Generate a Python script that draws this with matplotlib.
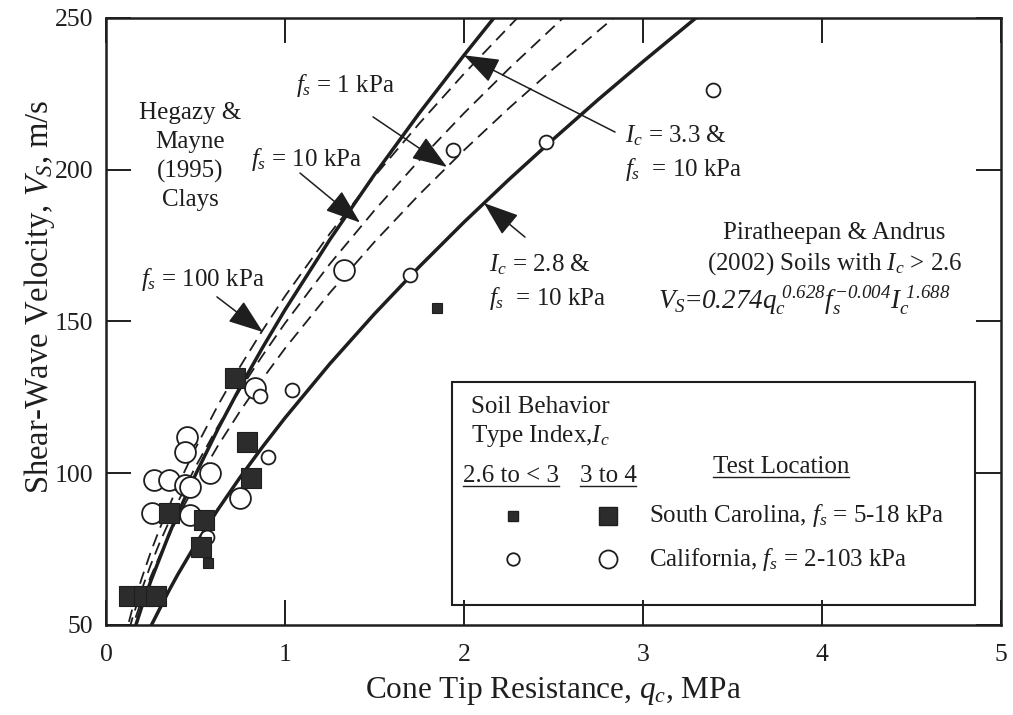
import matplotlib
matplotlib.use("Agg")
import matplotlib.pyplot as plt
from matplotlib.lines import Line2D
from matplotlib.patches import Rectangle
from matplotlib.transforms import IdentityTransform

plt.rcParams["font.family"] = ["Liberation Serif", "DejaVu Serif"]
plt.rcParams["mathtext.fontset"] = "custom"
plt.rcParams["mathtext.rm"] = "Liberation Serif"
plt.rcParams["mathtext.it"] = "Liberation Serif:italic"
# italic digits for the regression formula
plt.rcParams["mathtext.sf"] = "Liberation Serif:italic"

INK = "#1e1e1e"

# Piratheepan & Andrus (2002) curves, fs = 10 kPa
ic33_q = [0.15, 0.17, 0.2, 0.25, 0.35, 0.4, 0.5, 0.625, 0.75, 0.875, 1.0, 1.25, 1.5,
          1.75, 2.0, 2.17]
ic33_v = [46.7, 50.5, 56.0, 64.4, 79.5, 86.5, 99.5, 114.5, 128.4, 141.4, 153.8, 176.9,
          198.4, 218.6, 237.7, 250.2]
ic28_q = [0.22, 0.25, 0.35, 0.4, 0.5, 0.625, 0.75, 0.875, 1.0, 1.25, 1.5, 1.75, 2.0,
          2.25, 2.5, 2.75, 3.0, 3.3]
ic28_v = [45.7, 49.5, 61.1, 66.5, 76.5, 88.0, 98.7, 108.7, 118.2, 136.0, 152.5, 168.0,
          182.7, 196.7, 210.1, 223.1, 235.6, 250.2]

# Hegazy & Mayne (1995) clay curves for fs = 100, 10 and 1 kPa
hm100_q = [0.1, 0.15, 0.2, 0.25, 0.3, 0.4, 0.5, 0.625, 0.75, 0.875, 1.0, 1.25, 1.5,
           1.75, 2.0, 2.3]
hm100_v = [44.7, 55.9, 65.4, 74.0, 81.7, 95.7, 108.2, 122.3, 135.2, 147.1, 158.3, 178.9,
           197.8, 215.2, 231.6, 250.1]
hm10_q = [0.1, 0.15, 0.2, 0.25, 0.3, 0.4, 0.5, 0.625, 0.75, 0.875, 1.0, 1.25, 1.5,
          1.75, 2.0, 2.25, 2.55]
hm10_v = [42.2, 52.7, 61.7, 69.8, 77.1, 90.3, 102.1, 115.4, 127.6, 138.8, 149.4, 168.9,
          186.6, 203.1, 218.6, 233.2, 249.8]
hm1_q = [0.1, 0.15, 0.2, 0.25, 0.3, 0.4, 0.5, 0.625, 0.75, 0.875, 1.0, 1.25, 1.5, 1.75,
         2.0, 2.25, 2.5, 2.84]
hm1_v = [39.9, 49.8, 58.3, 65.9, 72.8, 85.3, 96.4, 109.0, 120.5, 131.1, 141.1, 159.4,
         176.2, 191.8, 206.4, 220.2, 233.3, 250.2]

# measurements
ca_low_q = [3.39, 2.46, 1.94, 1.70, 1.04, 0.86, 0.905, 0.565]
ca_low_v = [226.3, 209.1, 206.5, 165.3, 127.4, 125.5, 105.4, 79.0]
ca_high_q = [1.33, 0.83, 0.45, 0.44, 0.27, 0.35, 0.44, 0.58, 0.47, 0.26, 0.47, 0.75]
ca_high_v = [167.0, 128.1, 112.0, 107.0, 97.8, 97.8, 96.1, 100.0, 95.5, 86.9, 86.2, 91.8]
sc_low_q = [1.85, 0.57]
sc_low_v = [154.4, 70.4]
sc_high_q = [0.72, 0.79, 0.81, 0.55, 0.53, 0.35, 0.13, 0.21, 0.28]
sc_high_v = [131.4, 110.3, 98.4, 84.6, 75.7, 86.9, 59.5, 59.5, 59.5]

x_ticks = [0, 1, 2, 3, 4, 5]
y_ticks = [50, 100, 150, 200, 250]

fig = plt.figure(figsize=(10.13, 7.15), dpi=100)
ax = fig.add_axes([0.1046, 0.1259, 0.8835, 0.849])
ax.set_xlim(0, 5)
ax.set_ylim(50, 250)
ax.set_xticks(x_ticks)
ax.set_yticks(y_ticks)
ax.tick_params(direction="in", length=18, width=1.4, top=True, right=True,
               labelsize=18.5, colors=INK)
ax.tick_params(axis="x", pad=14)
ax.tick_params(axis="y", pad=9)
for s in ax.spines.values():
    s.set_linewidth(1.8)
    s.set_color(INK)
ax.set_xlabel("Cone Tip Resistance, $q_c$, MPa", fontsize=22.5, color=INK, labelpad=6)
ax.set_ylabel("Shear-Wave Velocity, $V_S$, m/s", fontsize=23.5, color=INK)
ax.yaxis.set_label_coords(-0.055, 0.54)

dash = dict(color=INK, lw=1.3, dashes=(7, 4), zorder=2)
ax.plot(hm100_q, hm100_v, **dash)
ax.plot(hm10_q, hm10_v, **dash)
ax.plot(hm1_q, hm1_v, **dash)
ax.plot(ic33_q, ic33_v, color=INK, lw=2.5, zorder=3, solid_joinstyle="round")
ax.plot(ic28_q, ic28_v, color=INK, lw=2.5, zorder=3, solid_joinstyle="round")

ax.plot(ca_high_q, ca_high_v, "o", ms=15, mfc="white", mec=INK, mew=1.3, zorder=4)
ax.plot(ca_low_q, ca_low_v, "o", ms=10, mfc="white", mec=INK, mew=1.3, zorder=4)
ax.plot(sc_high_q, sc_high_v, "s", ms=15, mfc="#2c2c2c", mec=INK, mew=0.8, zorder=5)
ax.plot(sc_low_q, sc_low_v, "s", ms=7.5, mfc="#2c2c2c", mec=INK, mew=0.8, zorder=5)

fs_txt = 18
arrow = dict(arrowstyle="-|>,head_length=1.1,head_width=0.4", color=INK, lw=1.1,
             mutation_scale=20, shrinkA=0, shrinkB=0)

ax.text(0.469, 204.3, "Hegazy &\nMayne\n(1995)\nClays", ha="center", va="center",
        fontsize=fs_txt, color=INK, linespacing=1.38)
ax.annotate("", xy=(1.905, 200.9), xytext=(1.492, 217.4), arrowprops=arrow)
ax.text(1.335, 227.6, "$f_s$ = 1 kPa", ha="center", va="center", fontsize=fs_txt, color=INK)
ax.annotate("", xy=(1.419, 182.6), xytext=(1.084, 198.9), arrowprops=arrow)
ax.text(1.123, 203.5, "$f_s$ = 10 kPa", ha="center", va="center", fontsize=fs_txt, color=INK)
ax.annotate("", xy=(0.877, 146.5), xytext=(0.62, 158.1), arrowprops=arrow)
ax.text(0.542, 163.8, "$f_s$ = 100 kPa", ha="center", va="center", fontsize=fs_txt, color=INK)

ax.annotate("", xy=(2.0, 237.7), xytext=(2.844, 212.4), arrowprops=arrow)
ax.text(2.9, 205.5, "$I_c$ = 3.3 &\n$f_s$  = 10 kPa", ha="left", va="center",
        fontsize=fs_txt, color=INK, linespacing=1.4)
ax.annotate("", xy=(2.112, 189.0), xytext=(2.341, 177.8), arrowprops=arrow)
ax.text(2.14, 163.0, "$I_c$ = 2.8 &\n$f_s$  = 10 kPa", ha="left", va="center",
        fontsize=fs_txt, color=INK, linespacing=1.4)

ax.text(4.07, 173.8, "Piratheepan & Andrus\n(2002) Soils with $I_c$ > 2.6", ha="center",
        va="center", fontsize=fs_txt, color=INK, linespacing=1.3)
ax.text(3.9, 157.0,
        r"$V_S\!=\!\mathsf{0.274}q_c^{\ \mathsf{0.628}}f_s^{\mathsf{-0.004}}I_c^{\ \mathsf{1.688}}$",
        ha="center", va="center", fontsize=19.5, color=INK)

# legend box
ax.add_patch(Rectangle((0.3866, 0.033), 0.5844, 0.367, transform=ax.transAxes,
                       fill=False, ec=INK, lw=1.5, zorder=6))
ax.text(0.485, 0.333, "Soil Behavior\nType Index,$I_c$", transform=ax.transAxes,
        ha="center", va="center", fontsize=fs_txt, color=INK, linespacing=1.25)
h1 = ax.text(0.453, 0.245, "2.6 to < 3", transform=ax.transAxes, ha="center",
             va="center", fontsize=fs_txt, color=INK)
h2 = ax.text(0.561, 0.245, "3 to 4", transform=ax.transAxes, ha="center",
             va="center", fontsize=fs_txt, color=INK)
h3 = ax.text(0.754, 0.260, "Test Location", transform=ax.transAxes, ha="center",
             va="center", fontsize=fs_txt, color=INK)
ax.plot([0.455], [0.180], "s", ms=7.5, mfc="#2c2c2c", mec=INK, transform=ax.transAxes, zorder=7)
ax.plot([0.561], [0.180], "s", ms=13, mfc="#2c2c2c", mec=INK, transform=ax.transAxes, zorder=7)
ax.plot([0.455], [0.108], "o", ms=9, mfc="white", mec=INK, mew=1.3, transform=ax.transAxes, zorder=7)
ax.plot([0.561], [0.108], "o", ms=13, mfc="white", mec=INK, mew=1.3, transform=ax.transAxes, zorder=7)
ax.text(0.607, 0.180, "South Carolina, $f_s$ = 5-18 kPa", transform=ax.transAxes,
        ha="left", va="center", fontsize=fs_txt, color=INK)
ax.text(0.607, 0.108, "California, $f_s$ = 2-103 kPa", transform=ax.transAxes,
        ha="left", va="center", fontsize=fs_txt, color=INK)

# underline the legend headings
fig.canvas.draw()
for t in (h1, h2, h3):
    bb = t.get_window_extent()
    fig.add_artist(Line2D([bb.x0, bb.x1], [bb.y0 + 1, bb.y0 + 1], color=INK, lw=1.0,
                          transform=IdentityTransform()))

fig.savefig("out.png", dpi=100)
